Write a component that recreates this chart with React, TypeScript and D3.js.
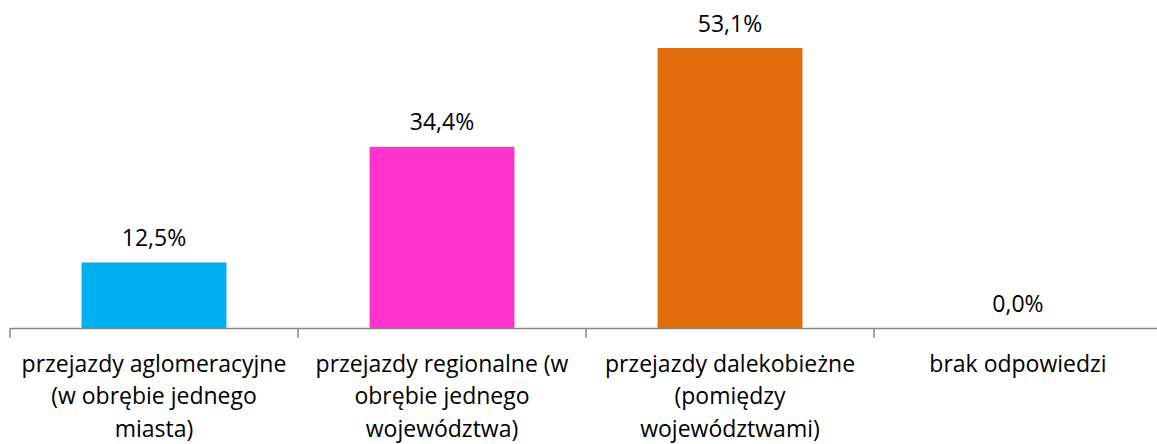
import React from "react";
import * as d3 from "d3";

const categories: string[][] = [
  ["przejazdy aglomeracyjne", "(w obrębie jednego", "miasta)"],
  ["przejazdy regionalne (w", "obrębie jednego", "województwa)"],
  ["przejazdy dalekobieżne", "(pomiędzy", "województwami)"],
  ["brak odpowiedzi"],
];
const values: number[] = [12.5, 34.4, 53.1, 0.0];
const colors: string[] = ["#00B0F0", "#FF33CC", "#E36C0A", "#7F7F7F"];

const W = 1157;
const H = 444;
const FONT = "'Open Sans', sans-serif";

export default function App() {
  const baseY = 328.5;
  const x = d3
    .scaleBand<number>()
    .domain(values.map((_, i) => i))
    .range([10, 1162])
    .paddingInner(0.497)
    .paddingOuter(0.2485);
  const y = d3.scaleLinear().domain([0, 53.1]).range([baseY, 48]);
  const step = x.step();
  const ticks = d3.range(values.length + 1).map((i) => 10 + i * step);
  const fmt = (v: number) => v.toFixed(1).replace(".", ",") + "%";

  return (
    <svg width={W} height={H} style={{ position: "absolute", left: 0, top: 0 }}>
      <rect width={W} height={H} fill="#fff" />
      {values.map((v, i) => (
        <rect
          key={i}
          x={x(i)}
          y={y(v)}
          width={x.bandwidth()}
          height={baseY - y(v)}
          fill={colors[i]}
        />
      ))}
      <line x1={10} x2={W} y1={baseY} y2={baseY} stroke="#868686" strokeWidth={1.5} />
      {ticks.map((t, i) => (
        <line key={i} x1={t} x2={t} y1={baseY} y2={baseY + 9} stroke="#868686" strokeWidth={1.5} />
      ))}
      {values.map((v, i) => (
        <text
          key={i}
          x={(x(i) as number) + x.bandwidth() / 2}
          y={y(v) - 16.5}
          textAnchor="middle"
          fontFamily={FONT}
          fontSize={23}
          fill="#000"
        >
          {fmt(v)}
        </text>
      ))}
      {categories.map((lines, i) => (
        <text
          key={i}
          x={(x(i) as number) + x.bandwidth() / 2}
          y={371.5}
          textAnchor="middle"
          fontFamily={FONT}
          fontSize={23}
          fill="#000"
        >
          {lines.map((l, j) => (
            <tspan key={j} x={(x(i) as number) + x.bandwidth() / 2} dy={j === 0 ? 0 : 32.5}>
              {l}
            </tspan>
          ))}
        </text>
      ))}
    </svg>
  );
}
